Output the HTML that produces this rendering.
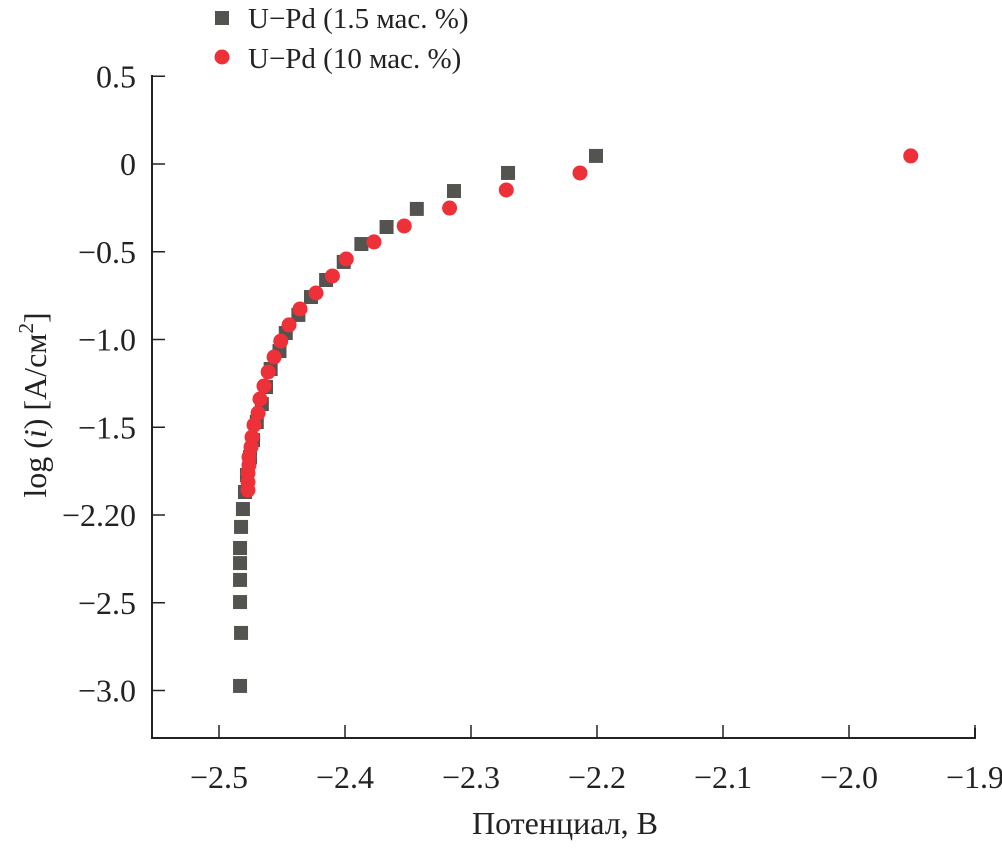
<!DOCTYPE html>
<html><head><meta charset="utf-8"><style>
body{margin:0;background:#fff;}
svg text{font-family:"Liberation Serif","DejaVu Serif",serif;fill:#222;}
</style></head><body>
<svg id="c" width="1002" height="844" xmlns="http://www.w3.org/2000/svg"></svg>
<script>
const xTicks=[-2.5,-2.4,-2.3,-2.2,-2.1,-2.0,-1.9];
const xTickLabels=["−2.5","−2.4","−2.3","−2.2","−2.1","−2.0","−1.9"];
const yTicks=[0.5,0,-0.5,-1.0,-1.5,-2.0,-2.5,-3.0];
const yTickLabels=["0.5","0","−0.5","−1.0","−1.5","−2.20","−2.5","−3.0"];
const sqX=[-2.2008,-2.2706,-2.3135,-2.343,-2.367,-2.387,-2.401,-2.415,-2.427,-2.437,-2.447,-2.452,-2.459,-2.4627,-2.466,-2.470,-2.473,-2.4754,-2.4778,-2.4794,-2.481,-2.4825,-2.4833,-2.4833,-2.4833,-2.4833,-2.4825,-2.4833];
const sqY=[0.046,-0.051,-0.154,-0.256,-0.359,-0.456,-0.558,-0.661,-0.758,-0.860,-0.963,-1.066,-1.168,-1.271,-1.368,-1.470,-1.573,-1.670,-1.772,-1.869,-1.966,-2.068,-2.188,-2.274,-2.370,-2.496,-2.672,-2.974];
const ciX=[-1.951,-2.2135,-2.272,-2.317,-2.353,-2.377,-2.399,-2.410,-2.423,-2.4357,-2.4444,-2.451,-2.4563,-2.461,-2.4643,-2.4675,-2.469,-2.4722,-2.4738,-2.4746,-2.4762,-2.4762,-2.477,-2.477,-2.477];
const ciY=[0.046,-0.051,-0.148,-0.251,-0.353,-0.444,-0.541,-0.638,-0.735,-0.826,-0.917,-1.009,-1.100,-1.185,-1.265,-1.339,-1.419,-1.487,-1.556,-1.613,-1.670,-1.715,-1.761,-1.812,-1.858];
const NS="http://www.w3.org/2000/svg";
const svg=document.getElementById('c');
const X=v=>219+(v+2.5)*1260;
const Y=v=>164-v*175.5;
function el(t,a,p){const e=document.createElementNS(NS,t);for(const k in a)e.setAttribute(k,a[k]);(p||svg).appendChild(e);return e;}
const axes=el('g',{});


const ax=el('path',{d:'M152 75 V738 H975 V728',stroke:'#222','stroke-width':2,fill:'none'},axes);


xTicks.forEach((v,i)=>{
  const t=el('line',{x1:X(v),x2:X(v),y1:738,y2:725,stroke:'#222','stroke-width':1.5},axes);
  
  
  const l=el('text',{x:X(v),y:788,'font-size':32,'text-anchor':'middle'},axes);
  l.textContent=xTickLabels[i];
  
  
});
yTicks.forEach((v,i)=>{
  const t=el('line',{x1:152,x2:165,y1:Y(v),y2:Y(v),stroke:'#222','stroke-width':1.5},axes);
  
  
  const l=el('text',{x:136,y:Y(v)+11,'font-size':32,'text-anchor':'end'},axes);
  l.textContent=yTickLabels[i];
  
  
});
const xt=el('text',{x:565,y:834,'font-size':32,'text-anchor':'middle'});
xt.textContent='Потенциал, В';


const yt=el('text',{transform:'translate(46,405) rotate(-90)','font-size':32,'text-anchor':'middle'});
yt.innerHTML='log (<tspan font-style="italic">i</tspan>) [A/см<tspan dy="-13" font-size="21">2</tspan><tspan dy="13">]</tspan>';


const s1=el('g',{});


sqX.forEach((v,i)=>{
  const r=el('rect',{x:X(v)-7,y:Y(sqY[i])-7,width:14,height:14,fill:'#555350'},s1);
  
  
});
const s2=el('g',{});


ciX.forEach((v,i)=>{
  const c=el('circle',{cx:X(v),cy:Y(ciY[i]),r:7.5,fill:'#ee3038'},s2);
  
  
});
const lg=el('g',{});


const lr=el('rect',{x:215,y:11,width:14,height:14,fill:'#555350'},lg);


const lt1=el('text',{x:248,y:28,'font-size':29},lg);
lt1.textContent='U−Pd (1.5 мас. %)';


const lc=el('circle',{cx:222,cy:57,r:7.5,fill:'#ee3038'},lg);


const lt2=el('text',{x:248,y:68,'font-size':29},lg);
lt2.textContent='U−Pd (10 мас. %)';


</script>
</body></html>
